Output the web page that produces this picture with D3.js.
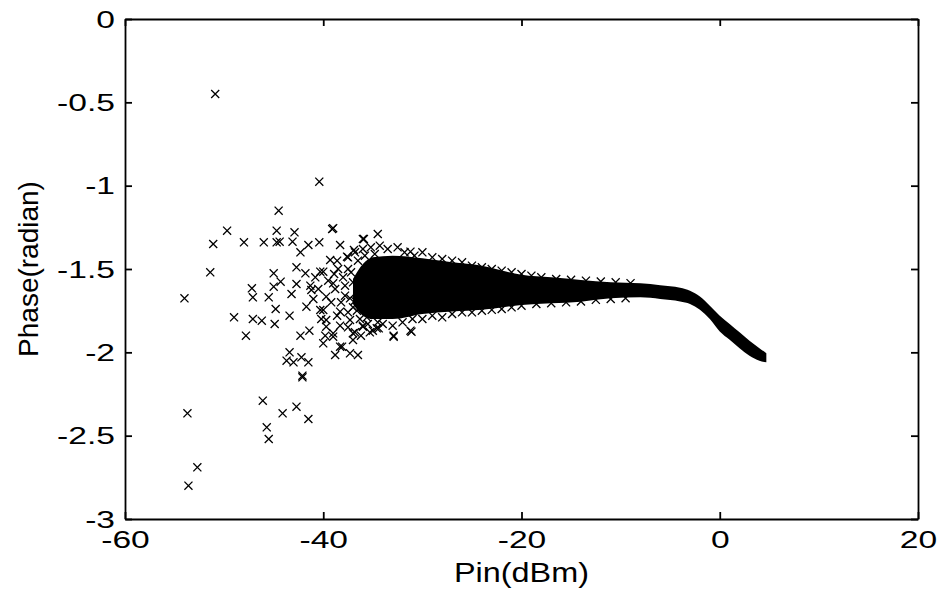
<!DOCTYPE html>
<html>
<head>
<meta charset="utf-8">
<script src="https://cdn.jsdelivr.net/npm/d3@7"></script>
<style>
  body { margin: 0; background: #fff; }
  text { font-family: "Liberation Sans", Arial, sans-serif; fill: #000; }
</style>
</head>
<body>
<svg id="drawing_region"></svg>
<script>
// axis ticks
const xTicks = [-60, -40, -20, 0, 20];
const yTicks = [0, -0.5, -1, -1.5, -2, -2.5, -3];

// dense core of the scatter, upper and lower edge
const bandX     = [-37, -36, -35, -33, -30, -27, -24, -20, -17, -14, -11, -8, -6, -4, -3, -2, -1, 0, 1, 2, 3, 4, 4.7];
const bandUpper = [-1.56, -1.47, -1.43, -1.42, -1.435, -1.46, -1.48, -1.535, -1.55, -1.566, -1.58, -1.586, -1.597, -1.612, -1.63, -1.665, -1.72, -1.78, -1.83, -1.88, -1.93, -1.975, -2.005];
const bandLower = [-1.71, -1.78, -1.80, -1.80, -1.77, -1.755, -1.745, -1.716, -1.706, -1.696, -1.676, -1.67, -1.68, -1.695, -1.71, -1.745, -1.80, -1.875, -1.925, -1.975, -2.02, -2.05, -2.06];

// scattered samples (Pin dBm, phase rad)
const outliers = [
  [-50.9, -0.45], [-40.4, -0.976], [-44.5, -1.15], [-49.7, -1.27], [-44.7, -1.27], [-42.9, -1.28],
  [-39.1, -1.26], [-39.0, -1.255], [-51.1, -1.35], [-48.0, -1.34], [-46.0, -1.34], [-44.7, -1.34],
  [-44.4, -1.336], [-43.1, -1.336], [-42.3, -1.40], [-41.5, -1.356], [-40.4, -1.34], [-38.3, -1.356],
  [-35.9, -1.32], [-34.5, -1.29], [-51.4, -1.52], [-54.0, -1.676], [-45.0, -1.526], [-47.2, -1.616],
  [-47.1, -1.67], [-45.5, -1.67], [-45.0, -1.606], [-44.3, -1.576], [-44.8, -1.74], [-49.0, -1.79],
  [-47.1, -1.80], [-46.2, -1.81], [-44.9, -1.83], [-47.8, -1.90], [-43.4, -1.78], [-43.2, -1.65],
  [-42.7, -1.59], [-42.7, -1.49], [-42.3, -1.90], [-41.4, -1.87], [-43.4, -2.0], [-43.7, -2.05],
  [-43.0, -2.06], [-42.2, -2.03], [-41.5, -2.06], [-42.1, -2.15], [-42.1, -2.14], [-53.7, -2.366],
  [-46.1, -2.29], [-44.1, -2.366], [-42.7, -2.326], [-41.5, -2.40], [-45.7, -2.45], [-45.5, -2.52],
  [-52.7, -2.69], [-53.6, -2.80]
];

const fringe = [
  [-41.8, -1.526], [-40.3, -1.516], [-41.2, -1.626], [-41.7, -1.726], [-40.3, -1.746], [-39.7, -1.806],
  [-40.0, -1.946], [-38.8, -2.016], [-38.1, -1.966], [-37.3, -2.006], [-36.5, -2.016], [-39.0, -1.886],
  [-37.0, -1.886], [-34.6, -1.856], [-32.9, -1.90], [-31.1, -1.876], [-31.2, -1.396], [-36.9, -1.386],
  [-39.3, -1.446], [-32.9, -1.906], [-31.2, -1.87], [-36.0, -1.32], [-37.6, -1.426], [-40.0, -1.516],
  [-39.0, -1.586], [-39.7, -1.666], [-37.3, -1.676], [-40.0, -1.746], [-38.3, -1.756], [-37.3, -1.806],
  [-39.7, -1.846], [-36.0, -1.846], [-34.4, -1.856], [-39.0, -1.906], [-37.0, -1.926], [-38.3, -1.966],
  [-38.5, -1.50], [-38.0, -1.55], [-38.8, -1.62], [-37.8, -1.60], [-38.2, -1.70], [-37.0, -1.73],
  [-39.5, -1.57], [-38.6, -1.78], [-37.2, -1.52], [-36.5, -1.62], [-36.6, -1.75], [-39.2, -1.70],
  [-40.5, -1.62], [-41.0, -1.68], [-40.8, -1.55], [-41.3, -1.60], [-40.2, -1.80], [-39.8, -1.90],
  [-36.5, -1.45], [-37.5, -1.50], [-37.0, -1.58], [-37.8, -1.66], [-36.8, -1.69], [-37.5, -1.76],
  [-36.3, -1.80], [-35.8, -1.42], [-35.5, -1.83], [-34.8, -1.41], [-35.6, -1.79], [-38.6, -1.45],
  [-38.9, -1.53], [-38.3, -1.84], [-36.2, -1.90], [-35.3, -1.88], [-34.5, -1.82],
  // upper edge of the band
  [-37.5, -1.43], [-36.8, -1.40], [-36.0, -1.38], [-35.2, -1.37], [-34.3, -1.36], [-33.5, -1.38],
  [-32.5, -1.37], [-31.8, -1.40], [-30.8, -1.42], [-30.0, -1.40], [-29.0, -1.43], [-28.0, -1.44],
  [-27.0, -1.45], [-26.0, -1.46], [-25.0, -1.48], [-24.0, -1.49], [-23.0, -1.50], [-22.0, -1.51],
  [-21.0, -1.52], [-20.0, -1.53], [-19.0, -1.54], [-18.0, -1.55], [-16.5, -1.56], [-15.0, -1.565],
  [-13.5, -1.57], [-12.0, -1.575], [-10.5, -1.58], [-9.0, -1.585],
  // lower edge of the band
  [-37.5, -1.85], [-36.8, -1.88], [-36.0, -1.84], [-35.0, -1.87], [-34.0, -1.83], [-33.0, -1.84],
  [-32.0, -1.82], [-31.0, -1.80], [-30.0, -1.80], [-29.0, -1.78], [-28.0, -1.79], [-27.0, -1.77],
  [-26.0, -1.76], [-25.0, -1.76], [-24.0, -1.75], [-23.0, -1.745], [-22.0, -1.74], [-21.0, -1.73],
  [-20.0, -1.72], [-18.5, -1.71], [-17.0, -1.705], [-15.5, -1.70], [-14.0, -1.695], [-12.5, -1.685],
  [-11.0, -1.68], [-9.5, -1.675]
];

const width = 944, height = 591;
const margin = {top: 19, right: 26, bottom: 72, left: 125};
const innerW = width - margin.left - margin.right;
const innerH = height - margin.top - margin.bottom;

const svg = d3.select('#drawing_region')
  .attr('width', width)
  .attr('height', height);

const chart = svg.append('g')
  .attr('transform', `translate(${margin.left}, ${margin.top})`);

const xscale = d3.scaleLinear().domain([-60, 20]).range([0, innerW]);
const yscale = d3.scaleLinear().domain([-3, 0]).range([innerH, 0]);

// dense band
const band = bandX.map((x, i) => ({x: x, hi: bandUpper[i], lo: bandLower[i]}));
chart.append('path')
  .datum(band)
  .attr('fill', '#000')
  .attr('d', d3.area()
    .x(d => xscale(d.x))
    .y0(d => yscale(d.lo))
    .y1(d => yscale(d.hi))
    .curve(d3.curveMonotoneX));

// x markers
const marker = d3.symbol().type(d3.symbolX).size(44);
chart.selectAll('path.pt')
  .data(outliers.concat(fringe))
  .enter()
  .append('path')
  .attr('class', 'pt')
  .attr('transform', d => `translate(${xscale(d[0])}, ${yscale(d[1])})`)
  .attr('d', marker)
  .attr('fill', 'none')
  .attr('stroke', '#000')
  .attr('stroke-width', 1.3);

// axes, ticks inward on all four sides
const xaxis = d3.axisBottom(xscale).tickValues(xTicks).tickSizeInner(-7).tickSizeOuter(0).tickPadding(12);
const yaxis = d3.axisLeft(yscale).tickValues(yTicks).tickSizeInner(-7).tickSizeOuter(0);

const xaxis_group = chart.append('g')
  .attr('transform', `translate(0, ${innerH})`)
  .call(xaxis);
xaxis_group.selectAll('text')
  .attr('font-size', 24)
  .attr('transform', 'scale(1.4,1)')
  .text(d => String(d));

const yaxis_group = chart.append('g').call(yaxis);
yaxis_group.selectAll('text')
  .attr('font-size', 24)
  .attr('x', -10 / 1.4)
  .attr('dy', '0.34em')
  .attr('transform', 'scale(1.4,1)')
  .text(d => String(d));

chart.append('g')
  .call(d3.axisTop(xscale).tickValues(xTicks).tickSizeInner(-7).tickSizeOuter(0).tickFormat(''));
chart.append('g')
  .attr('transform', `translate(${innerW}, 0)`)
  .call(d3.axisRight(yscale).tickValues(yTicks).tickSizeInner(-7).tickSizeOuter(0).tickFormat(''));

chart.selectAll('.domain, .tick line')
  .attr('stroke', '#000')
  .attr('stroke-width', 1.8);

// axis titles
chart.append('text')
  .attr('x', innerW / 2)
  .attr('y', 563)
  .attr('text-anchor', 'middle')
  .attr('font-size', 27)
  .attr('transform', `translate(${-0.2 * innerW / 2}, 0) scale(1.2,1)`)
  .text('Pin(dBm)');

svg.append('text')
  .attr('transform', `translate(38, ${margin.top + innerH / 2}) rotate(-90)`)
  .attr('text-anchor', 'middle')
  .attr('font-size', 28)
  .text('Phase(radian)');
</script>
</body>
</html>
